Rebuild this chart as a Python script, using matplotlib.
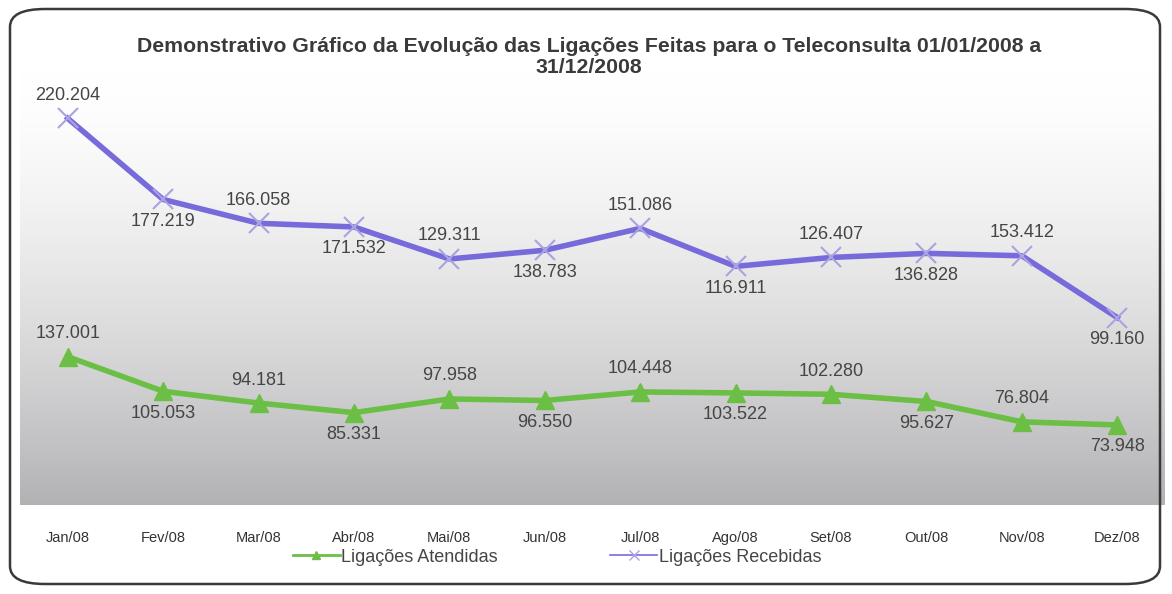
import numpy as np
import matplotlib
matplotlib.use('Agg')
import matplotlib.pyplot as plt
from matplotlib.patches import FancyBboxPatch
from matplotlib.lines import Line2D

plt.rcParams['font.family'] = ['Liberation Sans', 'DejaVu Sans']

meses = ['Jan/08', 'Fev/08', 'Mar/08', 'Abr/08', 'Mai/08', 'Jun/08',
         'Jul/08', 'Ago/08', 'Set/08', 'Out/08', 'Nov/08', 'Dez/08']
atendidas = [137.001, 105.053, 94.181, 85.331, 97.958, 96.550,
             104.448, 103.522, 102.280, 95.627, 76.804, 73.948]
recebidas = [220.204, 177.219, 166.058, 171.532, 129.311, 138.783,
             151.086, 116.911, 126.407, 136.828, 153.412, 99.160]

titulo = ('Demonstrativo Gráfico da Evolução das Ligações Feitas para o Teleconsulta 01/01/2008 a\n'
          '31/12/2008')

cor_verde = '#6cbf45'
cor_azul = '#776bdb'
cor_texto = '#454545'

W, H = 1172, 594
fig = plt.figure(figsize=(W / 100, H / 100), dpi=100)
fig.patch.set_facecolor('white')

# moldura arredondada
moldura = FancyBboxPatch((10 / W, 10 / H), 1150 / W, 575 / H,
                         boxstyle='round,pad=0,rounding_size=0.03',
                         transform=fig.transFigure, facecolor='none',
                         edgecolor='#3a3a3a', linewidth=1.8)
fig.patches.append(moldura)

ax = fig.add_axes([20 / W, (H - 505) / H, 1145 / W, 433 / H])

# fundo em degradê (branco -> cinza)
t = np.linspace(0, 1, 256) ** 1.5
topo = np.array([1.0, 1.0, 1.0])
base = np.array([0.70, 0.70, 0.71])
grad = topo[None, :] * (1 - t[:, None]) + base[None, :] * t[:, None]
ax.imshow(grad[:, None, :], extent=[0, 1, 0, 1], transform=ax.transAxes,
          aspect='auto', zorder=0, origin='upper')

x = np.arange(len(meses))
# gráfico de linhas empilhadas (como no Excel)
acumulado = np.array(atendidas) + np.array(recebidas)

ax.plot(x, atendidas, color=cor_verde, lw=4, marker='^', ms=13,
        mfc=cor_verde, mec=cor_verde, zorder=3)
ax.plot(x, acumulado, color=cor_azul, lw=4, marker='x', ms=15,
        mec='#aaa2e2', mew=1.5, zorder=3)

for i in range(len(meses)):
    dy = 23 if i % 2 == 0 else -22
    ax.annotate(f'{atendidas[i]:.3f}', (x[i], atendidas[i]), xytext=(0, dy),
                textcoords='offset pixels', ha='center', va='center',
                fontsize=13, color=cor_texto, zorder=4)
    ax.annotate(f'{recebidas[i]:.3f}', (x[i], acumulado[i]), xytext=(0, dy),
                textcoords='offset pixels', ha='center', va='center',
                fontsize=13, color=cor_texto, zorder=4)

ax.set_xlim(-0.5, len(meses) - 0.5)
ax.set_ylim(0, 400)
ax.set_xticks(x)
ax.set_xticklabels(meses, fontsize=10.5, color='#333333')
ax.tick_params(axis='x', length=0, pad=19)
ax.set_yticks([])
for s in ax.spines.values():
    s.set_visible(False)

fig.text(589 / W, (H - 57) / H, titulo, ha='center', va='center',
         fontsize=15.3, fontweight='bold', color='#3a3a3a', linespacing=1.1)

handles = [Line2D([], [], color=cor_verde, lw=2, marker='^', ms=6, mec=cor_verde),
           Line2D([], [], color=cor_azul, lw=1.2, marker='x', ms=7, mec='#aaa2e2')]
fig.legend(handles, ['Ligações Atendidas', 'Ligações Recebidas'],
           loc='center', bbox_to_anchor=(557 / W, (H - 557) / H), ncol=2,
           frameon=False, fontsize=13, labelcolor=cor_texto,
           handlelength=2.6, handletextpad=0.1, columnspacing=6.2)

fig.savefig('out.png', dpi=100)
